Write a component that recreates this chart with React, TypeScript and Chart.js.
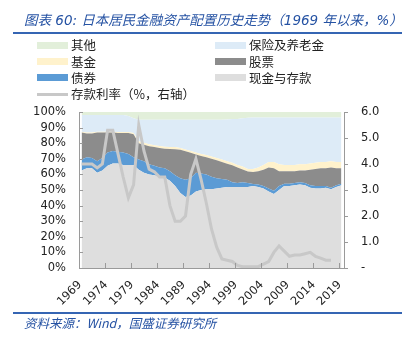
import React, { useEffect, useRef } from 'react';
import { Chart, registerables } from 'chart.js';

Chart.register(...registerables);

// ---------- data ----------
const years = [
  1969, 1970, 1971, 1972, 1973, 1974, 1975, 1976, 1977, 1978,
  1979, 1980, 1981, 1982, 1983, 1984, 1985, 1986, 1987, 1988,
  1989, 1990, 1991, 1992, 1993, 1994, 1995, 1996, 1997, 1998,
  1999, 2000, 2001, 2002, 2003, 2004, 2005, 2006, 2007, 2008,
  2009, 2010, 2011, 2012, 2013, 2014, 2015, 2016, 2017, 2018,
  2019,
];

// shares of household financial assets (%)
const cashDeposits = [
  62.5, 64, 64, 61, 62.5, 65.5, 67, 67, 66, 66,
  66, 63, 61, 60, 59.5, 58.5, 58, 56, 52.5, 48,
  45.5, 46.5, 49, 50, 50.5, 50.5, 51, 51.5, 52, 52,
  52, 52, 52, 52.5, 52, 51, 49, 47.5, 50, 52.5,
  52.5, 53, 53.5, 53, 51.5, 51, 51, 51.5, 50.5, 52,
  53,
];
const bonds = [
  7, 7, 6.5, 7.5, 8, 8.5, 8, 7.5, 8, 7,
  5, 6.5, 7.5, 6.5, 6, 6, 6, 6, 7, 9.5,
  11, 11, 12, 10.5, 9.5, 8, 6.5, 5.5, 4.5, 3,
  2.5, 3, 2.5, 1.3, 1.5, 1.5, 2, 2, 2.5, 1.5,
  1.5, 1.5, 1.5, 1.5, 1.5, 1.5, 1.5, 1, 1, 1,
  1,
];
const stocks = [
  17.3, 15.2, 15.7, 18.3, 16.3, 12.8, 11.8, 12.1, 12.5, 13.5,
  14.7, 10.5, 10.5, 11.5, 12, 12.5, 12.5, 14.3, 16.7, 18.3,
  18.3, 16.3, 11.8, 11.3, 11, 11.5, 11.5, 11, 10.3, 10.8,
  10, 8.2, 7.3, 7.7, 8.5, 10.5, 13.5, 14.5, 9.5, 8,
  8, 7.5, 7.5, 8, 10, 11, 11.5, 11.5, 13, 11,
  10,
];
const funds = [
  0.5, 0.6, 0.6, 0.6, 0.6, 0.6, 0.6, 0.6, 0.6, 0.6,
  0.8, 1.3, 1.3, 1.3, 1.2, 1.2, 1.2, 1.3, 1.3, 1.2,
  1.2, 1.2, 1.2, 1.2, 1.5, 1.5, 1.5, 1.5, 1.7, 1.7,
  1.5, 1.8, 1.7, 2, 2.5, 3, 3.5, 4, 4.5, 4,
  4, 4, 4, 4, 4, 4, 4, 4, 4, 4,
  4,
];
const insurancePension = [
  10.7, 11.2, 11.2, 10.6, 10.6, 10.6, 10.6, 10.8, 10.9, 10.4,
  9.5, 13.7, 14.7, 15.7, 16.3, 16.8, 17.3, 17.4, 17.5, 18,
  19, 20, 21, 22, 22.5, 23.5, 24.5, 25.5, 26.7, 28,
  29.5, 31, 32.8, 33, 32, 30.5, 28.5, 28.5, 30, 30.5,
  30.5, 30.5, 30, 30, 29.5, 29, 28.5, 28.5, 28, 28.5,
  28.5,
];
const others = [
  2, 2, 2, 2, 2, 2, 2, 2, 2, 2.5,
  4, 5, 5, 5, 5, 5, 5, 5, 5, 5,
  5, 5, 5, 5, 5, 5, 5, 5, 4.8, 4.5,
  4.5, 4, 3.7, 3.5, 3.5, 3.5, 3.5, 3.5, 3.5, 3.5,
  3.5, 3.5, 3.5, 3.5, 3.5, 3.5, 3.5, 3.5, 3.5, 3.5,
  3.5,
];
// deposit rate (%, right axis), 1969-2017
const depositRate = [
  4.0, 4.0, 4.0, 3.85, 4.0, 5.3, 5.3, 4.4, 3.5, 2.7,
  3.2, 5.5, 4.5, 3.8, 3.7, 3.5, 3.5, 2.4, 1.8, 1.8,
  2.0, 3.6, 4.2, 3.4, 2.5, 1.5, 0.8, 0.35, 0.3, 0.25,
  0.1, 0.05, 0.05, 0.05, 0.05, 0.15, 0.25, 0.6, 0.85, 0.65,
  0.45, 0.5, 0.5, 0.55, 0.6, 0.45, 0.38, 0.3, 0.3,
];

const xTickYears = [1969, 1974, 1979, 1984, 1989, 1994, 1999, 2004, 2009, 2014, 2019];
const leftTicks = [0, 10, 20, 30, 40, 50, 60, 70, 80, 90, 100];
const rightTicks = [0, 1, 2, 3, 4, 5, 6];

const seriesNames = {
  other: '其他',
  insurance: '保险及养老金',
  fund: '基金',
  stock: '股票',
  bond: '债券',
  cash: '现金与存款',
  rate: '存款利率（%，右轴）',
};

// ---------- styles ----------
const COLORS = {
  other: '#e2efda',
  insurance: '#ddebf7',
  fund: '#fff2cc',
  stock: '#8c8c8c',
  bond: '#5b9bd5',
  cash: '#dedede',
  rate: '#c8c8c8',
};
const AXIS = '#9a9a9a';
const TITLE_BLUE = '#2552a3';
const TICK_FAMILY = '"DejaVu Sans", Verdana, sans-serif';
const TICK_SIZE = 11.5;
const CJK = '"Noto Sans CJK SC", "Noto Sans", sans-serif';
const MIXED = '"DejaVu Sans", "Noto Sans CJK SC", sans-serif';

// Excel-style inner tick marks and rotated year labels on the category axis
const axisDecor = {
  id: 'axisDecor',
  afterDraw(chart: any) {
    const { ctx, chartArea, scales } = chart;
    ctx.save();
    ctx.strokeStyle = AXIS;
    ctx.lineWidth = 1;
    ctx.beginPath();
    for (const v of leftTicks) {
      const y = Math.round(scales.y.getPixelForValue(v)) + 0.5;
      ctx.moveTo(chartArea.left, y);
      ctx.lineTo(chartArea.left + 4, y);
    }
    for (const yr of xTickYears) {
      const x = Math.round(scales.x.getPixelForValue(yr - 0.5)) + 0.5;
      ctx.moveTo(x, chartArea.bottom);
      ctx.lineTo(x, chartArea.bottom - 5);
    }
    ctx.stroke();

    ctx.fillStyle = '#222';
    ctx.font = `${TICK_SIZE}px ${TICK_FAMILY}`;
    ctx.textAlign = 'right';
    ctx.textBaseline = 'middle';
    for (const yr of xTickYears) {
      const x = scales.x.getPixelForValue(yr - 0.5) + 1;
      ctx.save();
      ctx.translate(x, chartArea.bottom + 15);
      ctx.rotate(-Math.PI / 4);
      ctx.fillText(String(yr), 0, 0);
      ctx.restore();
    }
    ctx.restore();
  },
};

function pts(values: number[]) {
  return values.map((v, i) => ({ x: years[i], y: v }));
}

function area(label: string, values: number[], color: string, fill: string | boolean) {
  return {
    type: 'line' as const,
    label,
    data: pts(values),
    yAxisID: 'y',
    backgroundColor: color,
    borderColor: color,
    borderWidth: 0,
    pointRadius: 0,
    tension: 0,
    fill,
    order: 1,
  };
}

export default function App() {
  const canvasRef = useRef<HTMLCanvasElement>(null);

  useEffect(() => {
    const chart = new Chart(canvasRef.current as HTMLCanvasElement, {
      type: 'line',
      data: {
        datasets: [
          {
            type: 'line',
            label: seriesNames.rate,
            data: pts(depositRate),
            yAxisID: 'y2',
            borderColor: COLORS.rate,
            backgroundColor: COLORS.rate,
            borderWidth: 3,
            pointRadius: 0,
            tension: 0,
            fill: false,
            order: 0,
          },
          area(seriesNames.cash, cashDeposits, COLORS.cash, 'origin'),
          area(seriesNames.bond, bonds, COLORS.bond, '-1'),
          area(seriesNames.stock, stocks, COLORS.stock, '-1'),
          area(seriesNames.fund, funds, COLORS.fund, '-1'),
          area(seriesNames.insurance, insurancePension, COLORS.insurance, '-1'),
          area(seriesNames.other, others, COLORS.other, '-1'),
        ],
      },
      options: {
        responsive: false,
        animation: false,
        events: [],
        layout: { padding: { top: 112, left: 0, right: 0, bottom: 0 } },
        plugins: { legend: { display: false }, tooltip: { enabled: false }, title: { display: false } },
        scales: {
          x: {
            type: 'linear',
            min: years[0] - 0.5,
            max: years[years.length - 1] + 0.5,
            afterBuildTicks: (scale: any) => {
              scale.ticks = xTickYears.map((y) => ({ value: y - 0.5 }));
            },
            afterFit: (scale: any) => {
              scale.height = 74;
            },
            grid: { display: false, drawTicks: false },
            border: { display: true, color: AXIS, width: 1 },
            ticks: { display: false },
          },
          y: {
            type: 'linear',
            position: 'left',
            stacked: true,
            min: 0,
            max: 100,
            afterBuildTicks: (scale: any) => {
              scale.ticks = leftTicks.map((v) => ({ value: v }));
            },
            afterFit: (scale: any) => {
              scale.width = 79;
            },
            grid: { display: false, drawTicks: false },
            border: { display: true, color: AXIS, width: 1 },
            ticks: {
              autoSkip: false,
              padding: 13,
              color: '#222',
              font: { family: TICK_FAMILY, size: TICK_SIZE },
              callback: (v: any) => `${v}%`,
            },
          },
          y2: {
            type: 'linear',
            position: 'right',
            min: 0,
            max: 6,
            afterBuildTicks: (scale: any) => {
              scale.ticks = rightTicks.map((v) => ({ value: v }));
            },
            afterFit: (scale: any) => {
              scale.width = 67;
            },
            grid: { display: true, drawOnChartArea: false, drawTicks: true, tickLength: 4, color: AXIS },
            border: { display: true, color: AXIS, width: 1 },
            ticks: {
              autoSkip: false,
              padding: 13,
              color: '#222',
              font: { family: TICK_FAMILY, size: TICK_SIZE },
              callback: (v: any) => (Number(v) === 0 ? '-' : Number(v).toFixed(1)),
            },
          },
        },
      },
      plugins: [axisDecor],
    } as any);
    return () => chart.destroy();
  }, []);

  const legendItems = [
    { key: 'other', kind: 'box' },
    { key: 'insurance', kind: 'box' },
    { key: 'fund', kind: 'box' },
    { key: 'stock', kind: 'box' },
    { key: 'bond', kind: 'box' },
    { key: 'cash', kind: 'box' },
    { key: 'rate', kind: 'line' },
  ] as const;

  return (
    <div
      style={{
        position: 'absolute',
        left: 0,
        top: 0,
        width: 411,
        height: 342,
        background: '#fff',
        overflow: 'hidden',
      }}
    >
      <canvas ref={canvasRef} width={411} height={342} style={{ position: 'absolute', left: 0, top: 0 }} />

      <div
        style={{
          position: 'absolute',
          left: 24,
          top: 11,
          height: 19,
          lineHeight: '19px',
          fontFamily: MIXED,
          fontSize: 13.5,
          fontStyle: 'italic',
          color: TITLE_BLUE,
          whiteSpace: 'nowrap',
        }}
      >
        图表 60: 日本居民金融资产配置历史走势（1969 年以来，%）
      </div>
      <div style={{ position: 'absolute', left: 13, top: 32, width: 389, height: 2, background: '#3565b3' }} />

      <div
        style={{
          position: 'absolute',
          left: 37,
          top: 37,
          display: 'grid',
          gridTemplateColumns: '178px 178px',
          gridAutoRows: '16.4px',
          fontFamily: CJK,
          fontSize: 12.5,
          color: '#222',
        }}
      >
        {legendItems.map((it) => (
          <div key={it.key} style={{ display: 'flex', alignItems: 'center', whiteSpace: 'nowrap' }}>
            <span
              style={{
                display: 'inline-block',
                width: 31,
                height: it.kind === 'line' ? 3 : 7,
                background: (COLORS as any)[it.key],
                marginRight: 3,
              }}
            />
            <span style={{ lineHeight: '16px' }}>{(seriesNames as any)[it.key]}</span>
          </div>
        ))}
      </div>

      <div style={{ position: 'absolute', left: 13, top: 312, width: 389, height: 2, background: '#3565b3' }} />
      <div
        style={{
          position: 'absolute',
          left: 24,
          top: 314,
          height: 17,
          lineHeight: '17px',
          fontFamily: CJK,
          fontSize: 12.5,
          fontStyle: 'italic',
          color: TITLE_BLUE,
          whiteSpace: 'nowrap',
        }}
      >
        资料来源：Wind，国盛证券研究所
      </div>
    </div>
  );
}
